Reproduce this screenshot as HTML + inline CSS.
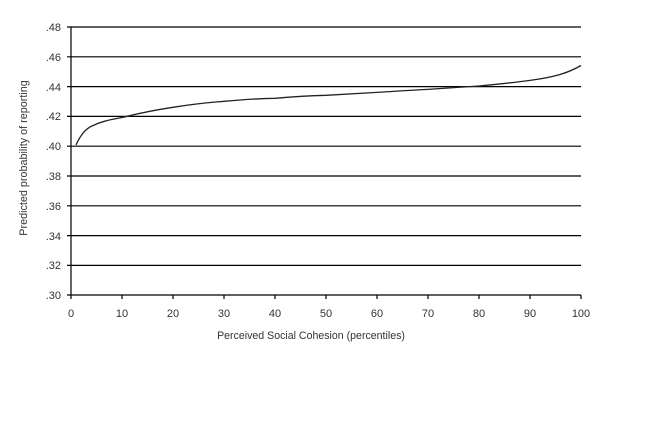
<!DOCTYPE html>
<html><head><style>body{margin:0;background:#fff}svg{display:block}text{font-family:"Liberation Sans",sans-serif;font-size:11px;fill:#333}</style></head>
<body>
<svg width="653" height="433" xmlns="http://www.w3.org/2000/svg">
<g stroke="#000" stroke-width="1.2">
<line x1="67" y1="27" x2="581" y2="27"/>
<line x1="67" y1="56.8" x2="581" y2="56.8"/>
<line x1="67" y1="86.6" x2="581" y2="86.6"/>
<line x1="67" y1="116.4" x2="581" y2="116.4"/>
<line x1="67" y1="146.2" x2="581" y2="146.2"/>
<line x1="67" y1="176" x2="581" y2="176"/>
<line x1="67" y1="205.8" x2="581" y2="205.8"/>
<line x1="67" y1="235.6" x2="581" y2="235.6"/>
<line x1="67" y1="265.4" x2="581" y2="265.4"/>
<line x1="67" y1="295" x2="581" y2="295"/>
<line x1="71" y1="27" x2="71" y2="299"/>
<line x1="122" y1="295" x2="122" y2="299"/><line x1="173" y1="295" x2="173" y2="299"/>
<line x1="224" y1="295" x2="224" y2="299"/><line x1="275" y1="295" x2="275" y2="299"/>
<line x1="326" y1="295" x2="326" y2="299"/><line x1="377" y1="295" x2="377" y2="299"/>
<line x1="428" y1="295" x2="428" y2="299"/><line x1="479" y1="295" x2="479" y2="299"/>
<line x1="530" y1="295" x2="530" y2="299"/><line x1="581" y1="295" x2="581" y2="299"/>
</g>
<path d="M76,145 C80,136 85,129 92,126 C100,122 108,120 122,117.5 C140,113 155,110 173,107.3 C200,103 210,102.5 224,101.3 C250,99 260,98.5 275,98.3 C300,96 310,95.6 326,95.3 C350,94 365,93 377,92.4 C400,91 415,90 428,89.4 C450,88 462,87 479,86 C500,84 515,82.5 530,80.4 C555,77 568,73 581,65.5" fill="none" stroke="#222" stroke-width="1.3"/>
<g text-anchor="end">
<text x="61" y="31">.48</text><text x="61" y="61">.46</text><text x="61" y="91">.44</text>
<text x="61" y="120">.42</text><text x="61" y="150">.40</text><text x="61" y="180">.38</text>
<text x="61" y="210">.36</text><text x="61" y="240">.34</text><text x="61" y="269">.32</text>
<text x="61" y="299">.30</text></g>
<g text-anchor="middle">
<text x="71" y="317">0</text><text x="122" y="317">10</text><text x="173" y="317">20</text>
<text x="224" y="317">30</text><text x="275" y="317">40</text><text x="326" y="317">50</text>
<text x="377" y="317">60</text><text x="428" y="317">70</text><text x="479" y="317">80</text>
<text x="530" y="317">90</text><text x="581" y="317">100</text>
<text x="311" y="339" style="font-size:10.6px">Perceived Social Cohesion (percentiles)</text>
<text transform="translate(27,158) rotate(-90)" style="font-size:10.8px">Predicted probability of reporting</text>
</g>
</svg>
</body></html>
